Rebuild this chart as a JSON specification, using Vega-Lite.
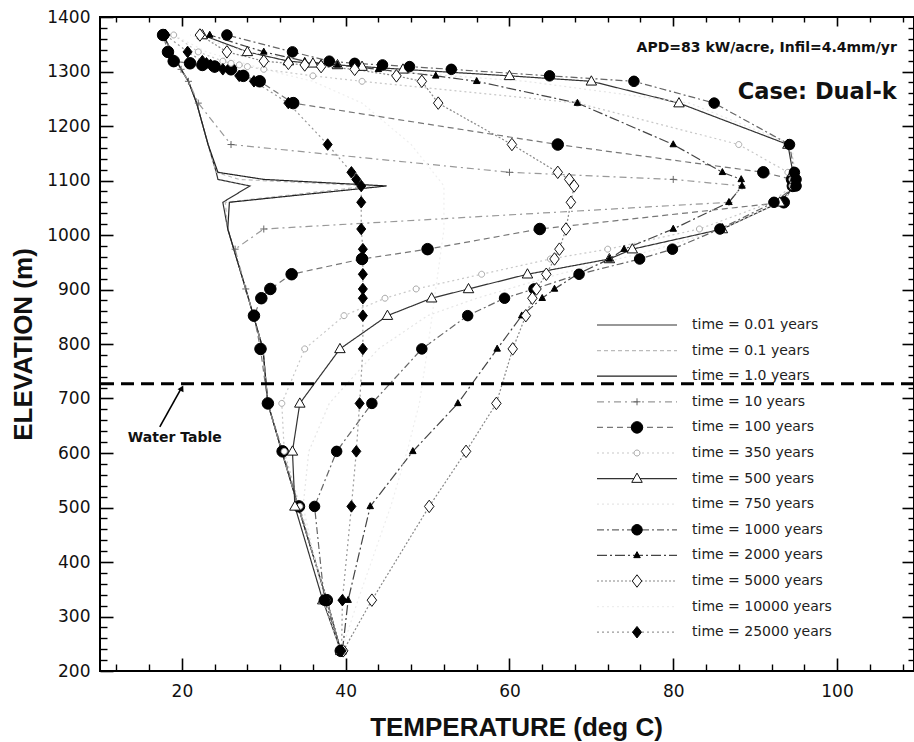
{
"$schema": "https://vega.github.io/schema/vega-lite/v6.json",
"width": 814, "height": 654,
"autosize": {"type": "none"},
"padding": {"left": 100, "top": 17, "right": 0, "bottom": 71},
"background": "white",
"config": {"view": {"stroke": "black", "strokeWidth": 2}, "axis": {"grid": false}},
"resolve": {"axis": {"x": "independent", "y": "independent"}, "legend": {"fill": "independent", "stroke": "independent", "shape": "independent"}},
"datasets": {
"profiles": [
{"s":"0.01","t":17.7,"e":1367},{"s":"0.01","t":19.9,"e":1304},{"s":"0.01","t":20.8,"e":1282},{"s":"0.01","t":21.8,"e":1242},{"s":"0.01","t":23.2,"e":1166},{"s":"0.01","t":24.2,"e":1115},{"s":"0.01","t":24.4,"e":1102},{"s":"0.01","t":28.3,"e":1090},{"s":"0.01","t":25.0,"e":1060},{"s":"0.01","t":25.6,"e":1011},{"s":"0.01","t":27.8,"e":901},{"s":"0.01","t":29.9,"e":791},{"s":"0.01","t":30.5,"e":691},{"s":"0.01","t":32.2,"e":603},{"s":"0.01","t":34.2,"e":502},{"s":"0.01","t":37.7,"e":330},{"s":"0.01","t":39.4,"e":237},
{"s":"0.1","t":17.7,"e":1367},{"s":"0.1","t":19.9,"e":1304},{"s":"0.1","t":20.8,"e":1282},{"s":"0.1","t":21.8,"e":1242},{"s":"0.1","t":23.2,"e":1166},{"s":"0.1","t":24.2,"e":1115},{"s":"0.1","t":27.0,"e":1102},{"s":"0.1","t":43.0,"e":1090},{"s":"0.1","t":25.3,"e":1060},{"s":"0.1","t":25.6,"e":1011},{"s":"0.1","t":27.8,"e":901},{"s":"0.1","t":29.9,"e":791},{"s":"0.1","t":30.5,"e":691},{"s":"0.1","t":32.2,"e":603},{"s":"0.1","t":34.2,"e":502},{"s":"0.1","t":37.7,"e":330},{"s":"0.1","t":39.4,"e":237},
{"s":"1.0","t":17.7,"e":1367},{"s":"1.0","t":19.9,"e":1304},{"s":"1.0","t":20.8,"e":1282},{"s":"1.0","t":21.8,"e":1242},{"s":"1.0","t":23.2,"e":1166},{"s":"1.0","t":24.4,"e":1115},{"s":"1.0","t":30.0,"e":1102},{"s":"1.0","t":45.0,"e":1090},{"s":"1.0","t":25.8,"e":1060},{"s":"1.0","t":25.6,"e":1011},{"s":"1.0","t":27.8,"e":901},{"s":"1.0","t":29.9,"e":791},{"s":"1.0","t":30.5,"e":691},{"s":"1.0","t":32.2,"e":603},{"s":"1.0","t":34.2,"e":502},{"s":"1.0","t":37.7,"e":330},{"s":"1.0","t":39.4,"e":237},
{"s":"10","t":17.7,"e":1367},{"s":"10","t":19.9,"e":1304},{"s":"10","t":20.8,"e":1282},{"s":"10","t":22.0,"e":1242},{"s":"10","t":26.0,"e":1166},{"s":"10","t":60.0,"e":1115},{"s":"10","t":80.0,"e":1102},{"s":"10","t":88.4,"e":1090},{"s":"10","t":86.8,"e":1060},{"s":"10","t":30.0,"e":1011},{"s":"10","t":26.5,"e":974},{"s":"10","t":27.8,"e":901},{"s":"10","t":29.9,"e":791},{"s":"10","t":30.5,"e":691},{"s":"10","t":32.2,"e":603},{"s":"10","t":34.2,"e":502},{"s":"10","t":37.7,"e":330},{"s":"10","t":39.4,"e":237},
{"s":"100","t":17.7,"e":1367},{"s":"100","t":18.3,"e":1336},{"s":"100","t":19.0,"e":1319},{"s":"100","t":21.0,"e":1315},{"s":"100","t":22.5,"e":1312},{"s":"100","t":24.0,"e":1309},{"s":"100","t":26.0,"e":1304},{"s":"100","t":27.5,"e":1292},{"s":"100","t":29.5,"e":1282},{"s":"100","t":33.6,"e":1242},{"s":"100","t":65.9,"e":1166},{"s":"100","t":91.0,"e":1115},{"s":"100","t":94.5,"e":1102},{"s":"100","t":94.6,"e":1090},{"s":"100","t":93.5,"e":1060},{"s":"100","t":63.7,"e":1011},{"s":"100","t":50.0,"e":974},{"s":"100","t":42.0,"e":956},{"s":"100","t":33.4,"e":928},{"s":"100","t":30.8,"e":901},{"s":"100","t":29.7,"e":884},{"s":"100","t":28.8,"e":852},{"s":"100","t":29.6,"e":791},{"s":"100","t":30.5,"e":691},{"s":"100","t":32.3,"e":603},{"s":"100","t":34.3,"e":502},{"s":"100","t":37.7,"e":330},{"s":"100","t":39.4,"e":237},
{"s":"350","t":19,"e":1367},{"s":"350","t":22,"e":1336},{"s":"350","t":25,"e":1319},{"s":"350","t":26,"e":1315},{"s":"350","t":27,"e":1312},{"s":"350","t":28,"e":1309},{"s":"350","t":30,"e":1304},{"s":"350","t":36,"e":1292},{"s":"350","t":42,"e":1282},{"s":"350","t":68.3,"e":1242},{"s":"350","t":88,"e":1166},{"s":"350","t":94,"e":1115},{"s":"350","t":94.5,"e":1102},{"s":"350","t":94.5,"e":1090},{"s":"350","t":92,"e":1060},{"s":"350","t":83.2,"e":1011},{"s":"350","t":72,"e":974},{"s":"350","t":65,"e":956},{"s":"350","t":56.6,"e":928},{"s":"350","t":48.6,"e":901},{"s":"350","t":44.8,"e":884},{"s":"350","t":39.8,"e":852},{"s":"350","t":35,"e":791},{"s":"350","t":32.2,"e":691},{"s":"350","t":32.5,"e":603},{"s":"350","t":34.4,"e":502},{"s":"350","t":37.7,"e":330},{"s":"350","t":39.4,"e":237},
{"s":"500","t":22.5,"e":1367},{"s":"500","t":28,"e":1336},{"s":"500","t":33,"e":1319},{"s":"500","t":36,"e":1315},{"s":"500","t":39,"e":1312},{"s":"500","t":42,"e":1309},{"s":"500","t":47,"e":1304},{"s":"500","t":60,"e":1292},{"s":"500","t":70,"e":1282},{"s":"500","t":80.7,"e":1242},{"s":"500","t":94,"e":1166},{"s":"500","t":94.6,"e":1115},{"s":"500","t":94.8,"e":1102},{"s":"500","t":94.8,"e":1090},{"s":"500","t":93,"e":1060},{"s":"500","t":86,"e":1011},{"s":"500","t":75,"e":974},{"s":"500","t":72.2,"e":956},{"s":"500","t":62.2,"e":928},{"s":"500","t":55,"e":901},{"s":"500","t":50.5,"e":884},{"s":"500","t":45.1,"e":852},{"s":"500","t":39.3,"e":791},{"s":"500","t":34.4,"e":691},{"s":"500","t":33.5,"e":603},{"s":"500","t":33.8,"e":502},{"s":"500","t":37.2,"e":330},{"s":"500","t":39.4,"e":237},
{"s":"750","t":21,"e":1367},{"s":"750","t":28,"e":1336},{"s":"750","t":42,"e":1304},{"s":"750","t":62,"e":1282},{"s":"750","t":82,"e":1242},{"s":"750","t":94.5,"e":1166},{"s":"750","t":95,"e":1090},{"s":"750","t":93,"e":1060},{"s":"750","t":86,"e":1011},{"s":"750","t":78,"e":974},{"s":"750","t":66,"e":928},{"s":"750","t":56,"e":884},{"s":"750","t":50,"e":852},{"s":"750","t":44,"e":791},{"s":"750","t":38,"e":691},{"s":"750","t":35.5,"e":603},{"s":"750","t":34.8,"e":502},{"s":"750","t":37.3,"e":330},{"s":"750","t":39.4,"e":237},
{"s":"1000","t":25.5,"e":1367},{"s":"1000","t":33.5,"e":1336},{"s":"1000","t":38,"e":1319},{"s":"1000","t":41.1,"e":1315},{"s":"1000","t":44.5,"e":1312},{"s":"1000","t":47.8,"e":1309},{"s":"1000","t":52.9,"e":1304},{"s":"1000","t":64.9,"e":1292},{"s":"1000","t":75.2,"e":1282},{"s":"1000","t":85,"e":1242},{"s":"1000","t":94.2,"e":1166},{"s":"1000","t":94.8,"e":1115},{"s":"1000","t":95,"e":1102},{"s":"1000","t":95,"e":1090},{"s":"1000","t":92.3,"e":1060},{"s":"1000","t":85.7,"e":1011},{"s":"1000","t":79.9,"e":974},{"s":"1000","t":75.9,"e":956},{"s":"1000","t":68.5,"e":928},{"s":"1000","t":63,"e":901},{"s":"1000","t":59.4,"e":884},{"s":"1000","t":54.9,"e":852},{"s":"1000","t":49.3,"e":791},{"s":"1000","t":43.2,"e":691},{"s":"1000","t":38.9,"e":603},{"s":"1000","t":36.2,"e":502},{"s":"1000","t":37.4,"e":330},{"s":"1000","t":39.5,"e":237},
{"s":"2000","t":23.4,"e":1367},{"s":"2000","t":30,"e":1336},{"s":"2000","t":35,"e":1319},{"s":"2000","t":37,"e":1315},{"s":"2000","t":39,"e":1312},{"s":"2000","t":41,"e":1309},{"s":"2000","t":44,"e":1304},{"s":"2000","t":51,"e":1292},{"s":"2000","t":56,"e":1282},{"s":"2000","t":68.3,"e":1242},{"s":"2000","t":80,"e":1166},{"s":"2000","t":86,"e":1115},{"s":"2000","t":88.3,"e":1102},{"s":"2000","t":88.4,"e":1090},{"s":"2000","t":86.8,"e":1060},{"s":"2000","t":80,"e":1011},{"s":"2000","t":74,"e":974},{"s":"2000","t":72.2,"e":956},{"s":"2000","t":68.3,"e":928},{"s":"2000","t":65.5,"e":901},{"s":"2000","t":64,"e":884},{"s":"2000","t":61.5,"e":852},{"s":"2000","t":58.5,"e":791},{"s":"2000","t":53.7,"e":691},{"s":"2000","t":48.2,"e":603},{"s":"2000","t":43,"e":502},{"s":"2000","t":40.3,"e":330},{"s":"2000","t":39.6,"e":237},
{"s":"5000","t":22.2,"e":1367},{"s":"5000","t":25.5,"e":1336},{"s":"5000","t":30,"e":1319},{"s":"5000","t":33,"e":1315},{"s":"5000","t":35,"e":1312},{"s":"5000","t":37,"e":1309},{"s":"5000","t":41.1,"e":1304},{"s":"5000","t":46.2,"e":1292},{"s":"5000","t":49.3,"e":1282},{"s":"5000","t":51.3,"e":1242},{"s":"5000","t":60.3,"e":1166},{"s":"5000","t":65.9,"e":1115},{"s":"5000","t":67.3,"e":1102},{"s":"5000","t":67.9,"e":1090},{"s":"5000","t":67.5,"e":1060},{"s":"5000","t":66.9,"e":1011},{"s":"5000","t":66.1,"e":974},{"s":"5000","t":65.5,"e":956},{"s":"5000","t":64.5,"e":928},{"s":"5000","t":63.3,"e":901},{"s":"5000","t":62.8,"e":884},{"s":"5000","t":62,"e":852},{"s":"5000","t":60.4,"e":791},{"s":"5000","t":58.4,"e":691},{"s":"5000","t":54.7,"e":603},{"s":"5000","t":50.2,"e":502},{"s":"5000","t":43.2,"e":330},{"s":"5000","t":39.7,"e":237},
{"s":"10000","t":19,"e":1367},{"s":"10000","t":23,"e":1336},{"s":"10000","t":30,"e":1304},{"s":"10000","t":36,"e":1282},{"s":"10000","t":42,"e":1242},{"s":"10000","t":48,"e":1166},{"s":"10000","t":52,"e":1090},{"s":"10000","t":52,"e":1011},{"s":"10000","t":51,"e":901},{"s":"10000","t":50,"e":791},{"s":"10000","t":49,"e":691},{"s":"10000","t":47.5,"e":603},{"s":"10000","t":45.5,"e":502},{"s":"10000","t":41.5,"e":330},{"s":"10000","t":39.5,"e":237},
{"s":"25000","t":18,"e":1367},{"s":"25000","t":20.7,"e":1336},{"s":"25000","t":22.5,"e":1319},{"s":"25000","t":23,"e":1315},{"s":"25000","t":23.5,"e":1312},{"s":"25000","t":24,"e":1309},{"s":"25000","t":25,"e":1304},{"s":"25000","t":27,"e":1292},{"s":"25000","t":28.8,"e":1282},{"s":"25000","t":33,"e":1242},{"s":"25000","t":37.8,"e":1166},{"s":"25000","t":40.7,"e":1115},{"s":"25000","t":41.3,"e":1102},{"s":"25000","t":41.9,"e":1090},{"s":"25000","t":41.9,"e":1060},{"s":"25000","t":41.9,"e":1011},{"s":"25000","t":42.1,"e":974},{"s":"25000","t":42.1,"e":956},{"s":"25000","t":42.1,"e":928},{"s":"25000","t":42.1,"e":901},{"s":"25000","t":42.1,"e":884},{"s":"25000","t":42.1,"e":852},{"s":"25000","t":42.1,"e":791},{"s":"25000","t":41.7,"e":691},{"s":"25000","t":41.3,"e":603},{"s":"25000","t":40.7,"e":502},{"s":"25000","t":39.6,"e":330},{"s":"25000","t":39.5,"e":237}
]
},
"layer": [
{
"data": {"name": "profiles"},
"mark": {"type": "line", "strokeWidth": 1.2},
"encoding": {
"x": {"field": "t", "type": "quantitative", "scale": {"domain": [10, 109.4], "nice": false, "zero": false},
 "axis": {"orient": "bottom", "values": [20, 40, 60, 80, 100], "format": "d", "ticks": false, "domain": false, "labelFont": "DejaVu Sans", "labelFontSize": 17, "labelColor": "#111", "labelPadding": 12, "labelFlush": false,
  "title": "TEMPERATURE (deg C)", "titleFont": "Liberation Sans", "titleFontSize": 26, "titleFontWeight": "bold", "titleColor": "#111", "titleX": 416, "titleY": 64, "titleBaseline": "alphabetic", "titleAlign": "center"}},
"y": {"field": "e", "type": "quantitative", "scale": {"domain": [200, 1400], "nice": false, "zero": false},
 "axis": {"orient": "left", "values": [200, 300, 400, 500, 600, 700, 800, 900, 1000, 1100, 1200, 1300, 1400], "format": "d", "ticks": false, "domain": false, "labelFont": "DejaVu Sans", "labelFontSize": 17, "labelColor": "#111", "labelPadding": 10, "labelFlush": false, "labelOverlap": false,
  "title": "ELEVATION (m)", "titleFont": "Liberation Sans", "titleFontSize": 26, "titleFontWeight": "bold", "titleColor": "#111", "titleX": -69, "titleY": 327, "titleAngle": 270, "titleBaseline": "alphabetic", "titleAlign": "center"}},
"color": {"field": "s", "type": "nominal",
 "scale": {"domain": ["0.01","0.1","1.0","10","100","350","500","750","1000","2000","5000","10000","25000"],
  "range": ["#333333","#bbbbbb","#222222","#999999","#777777","#c8c8c8","#333333","#e6e6e6","#666666","#444444","#888888","#eeeeee","#999999"]},
 "legend": {"orient": "none", "legendX": 496, "legendY": 296, "direction": "vertical", "title": null, "symbolType": "stroke", "symbolSize": 6400, "symbolStrokeWidth": 1.2, "clipHeight": 24, "rowPadding": 1.6, "labelFont": "DejaVu Sans", "labelFontSize": 14, "labelColor": "#222", "labelOffset": 14, "labelExpr": "'time = ' + datum.label + ' years'", "padding": 0}},
"strokeDash": {"field": "s", "type": "nominal",
 "scale": {"domain": ["0.01","0.1","1.0","10","100","350","500","750","1000","2000","5000","10000","25000"],
  "range": [[1,0],[4,3],[1,0],[7,4,2,4],[6,4],[2,3],[1,0],[2,3],[7,3,2,3],[10,3,2,3],[2,2],[2,3],[2,3]]},
 "legend": {"orient": "none", "legendX": 496, "legendY": 296, "direction": "vertical", "title": null, "symbolType": "stroke", "symbolSize": 6400, "symbolStrokeWidth": 1.2, "clipHeight": 24, "rowPadding": 1.6, "labelFont": "DejaVu Sans", "labelFontSize": 14, "labelColor": "#222", "labelOffset": 14, "labelExpr": "'time = ' + datum.label + ' years'", "padding": 0}},
"order": {"field": "e", "type": "quantitative"}
}
},
{
"data": {"name": "profiles"},
"transform": [{"filter": {"field": "s", "oneOf": ["10","100","350","500","1000","2000","5000","25000"]}}],
"mark": {"type": "point", "size": 100, "strokeWidth": 1, "opacity": 1},
"encoding": {
"x": {"field": "t", "type": "quantitative", "scale": {"domain": [10, 109.4], "nice": false, "zero": false},
 "axis": {"orient": "bottom", "values": [20, 40, 60, 80, 100], "labels": false, "domain": false, "ticks": true, "tickSize": -13, "tickWidth": 1.6, "tickColor": "black", "title": null}},
"y": {"field": "e", "type": "quantitative", "scale": {"domain": [200, 1400], "nice": false, "zero": false},
 "axis": {"orient": "left", "values": [200, 300, 400, 500, 600, 700, 800, 900, 1000, 1100, 1200, 1300, 1400], "labels": false, "domain": false, "ticks": true, "tickSize": -13, "tickWidth": 1.6, "tickColor": "black", "title": null}},
"shape": {"field": "s", "type": "nominal",
 "scale": {"domain": ["0.01","0.1","1.0","10","100","350","500","750","1000","2000","5000","10000","25000"],
  "range": ["M0,0","M0,0","M0,0","M-0.7,0L0.7,0M0,-0.7L0,0.7","M1.15,0A1.15,1.15,0,1,1,-1.15,0A1.15,1.15,0,1,1,1.15,0Z","M0.6,0A0.6,0.6,0,1,1,-0.6,0A0.6,0.6,0,1,1,0.6,0Z","M0,-1.1L1.05,0.75L-1.05,0.75Z","M0,0","M1.05,0A1.05,1.05,0,1,1,-1.05,0A1.05,1.05,0,1,1,1.05,0Z","M0,-0.75L0.65,0.45L-0.65,0.45Z","M0,-1.25L0.95,0L0,1.25L-0.95,0Z","M0,0","M0,-1.15L0.9,0L0,1.15L-0.9,0Z"]},
 "legend": {"orient": "none", "legendX": 496, "legendY": 296, "direction": "vertical", "title": null, "clipHeight": 24, "rowPadding": 1.6, "labelFont": "DejaVu Sans", "labelFontSize": 14, "labelOpacity": 0, "labelExpr": "''", "labelOffset": 14, "symbolOffset": 34, "symbolSize": 100, "symbolStrokeWidth": 1, "padding": 0}},
"fill": {"field": "s", "type": "nominal",
 "scale": {"domain": ["0.01","0.1","1.0","10","100","350","500","750","1000","2000","5000","10000","25000"],
  "range": ["transparent","transparent","transparent","transparent","black","white","white","transparent","black","black","white","transparent","black"]},
 "legend": {"orient": "none", "legendX": 496, "legendY": 296, "direction": "vertical", "title": null, "clipHeight": 24, "rowPadding": 1.6, "labelFont": "DejaVu Sans", "labelFontSize": 14, "labelOpacity": 0, "labelExpr": "''", "labelOffset": 14, "symbolOffset": 34, "symbolSize": 100, "symbolStrokeWidth": 1, "padding": 0}},
"stroke": {"field": "s", "type": "nominal",
 "scale": {"domain": ["0.01","0.1","1.0","10","100","350","500","750","1000","2000","5000","10000","25000"],
  "range": ["transparent","transparent","transparent","#666666","black","#aaaaaa","#111111","transparent","black","black","#111111","transparent","black"]},
 "legend": {"orient": "none", "legendX": 496, "legendY": 296, "direction": "vertical", "title": null, "clipHeight": 24, "rowPadding": 1.6, "labelFont": "DejaVu Sans", "labelFontSize": 14, "labelOpacity": 0, "labelExpr": "''", "labelOffset": 14, "symbolOffset": 34, "symbolSize": 100, "symbolStrokeWidth": 1, "padding": 0}}
}
},
{
"data": {"values": [{"e": 727}]},
"mark": {"type": "rule", "color": "black", "strokeWidth": 3, "strokeDash": [13, 7]},
"encoding": {"y": {"field": "e", "type": "quantitative", "scale": {"domain": [200, 1400], "nice": false, "zero": false}, "axis": null}}
},
{
"data": {"values": [{"t": 17.3, "e": 648, "t2": 19.9, "e2": 718}]},
"mark": {"type": "rule", "color": "black", "strokeWidth": 1.6},
"encoding": {
"x": {"field": "t", "type": "quantitative", "scale": {"domain": [10, 109.4], "nice": false, "zero": false}, "axis": null},
"y": {"field": "e", "type": "quantitative", "scale": {"domain": [200, 1400], "nice": false, "zero": false}, "axis": null},
"x2": {"field": "t2"}, "y2": {"field": "e2"}
}
},
{
"data": {"values": [{"t": 20.0, "e": 719}]},
"mark": {"type": "point", "shape": "triangle-up", "angle": 28, "size": 45, "filled": true, "color": "black", "opacity": 1},
"encoding": {
"x": {"field": "t", "type": "quantitative", "scale": {"domain": [10, 109.4], "nice": false, "zero": false}, "axis": null},
"y": {"field": "e", "type": "quantitative", "scale": {"domain": [200, 1400], "nice": false, "zero": false}, "axis": null}
}
},
{
"data": {"values": [{"label": "APD=83 kW/acre, Infil=4.4mm/yr", "t": 107.3, "e": 1343}]},
"mark": {"type": "text", "align": "right", "baseline": "middle", "font": "DejaVu Sans", "fontSize": 14, "fontWeight": "bold", "color": "#111"},
"encoding": {
"x": {"field": "t", "type": "quantitative", "scale": {"domain": [10, 109.4], "nice": false, "zero": false},
 "axis": {"orient": "bottom", "values": [12,16,24,28,32,36,44,48,52,56,64,68,72,76,84,88,92,96,104,108], "labels": false, "domain": false, "ticks": true, "tickSize": -7, "tickWidth": 1.4, "tickColor": "black", "title": null}},
"y": {"field": "e", "type": "quantitative", "scale": {"domain": [200, 1400], "nice": false, "zero": false},
 "axis": {"orient": "left", "values": [220,240,260,280,320,340,360,380,420,440,460,480,520,540,560,580,620,640,660,680,720,740,760,780,820,840,860,880,920,940,960,980,1020,1040,1060,1080,1120,1140,1160,1180,1220,1240,1260,1280,1320,1340,1360,1380], "labels": false, "domain": false, "ticks": true, "tickSize": -7, "tickWidth": 1.4, "tickColor": "black", "title": null}},
"text": {"field": "label"}
}
},
{
"data": {"values": [{"label": "Case: Dual-k", "t": 107.3, "e": 1262}]},
"mark": {"type": "text", "align": "right", "baseline": "middle", "font": "DejaVu Sans", "fontSize": 22.5, "fontWeight": "bold", "color": "#111"},
"encoding": {
"x": {"field": "t", "type": "quantitative", "scale": {"domain": [10, 109.4], "nice": false, "zero": false},
 "axis": {"orient": "top", "values": [20, 40, 60, 80, 100], "labels": false, "domain": false, "ticks": true, "tickSize": -9, "tickWidth": 1.6, "tickColor": "black", "title": null}},
"y": {"field": "e", "type": "quantitative", "scale": {"domain": [200, 1400], "nice": false, "zero": false},
 "axis": {"orient": "right", "values": [300, 400, 500, 600, 700, 800, 900, 1000, 1100, 1200, 1300], "labels": false, "domain": false, "ticks": true, "tickSize": -12, "tickWidth": 1.6, "tickColor": "black", "title": null}},
"text": {"field": "label"}
}
},
{
"data": {"values": [{"label": "Water Table", "t": 13.4, "e": 628}]},
"mark": {"type": "text", "align": "left", "baseline": "middle", "font": "DejaVu Sans", "fontSize": 14, "fontWeight": "bold", "color": "#111"},
"encoding": {
"x": {"field": "t", "type": "quantitative", "scale": {"domain": [10, 109.4], "nice": false, "zero": false},
 "axis": {"orient": "top", "values": [12,16,24,28,32,36,44,48,52,56,64,68,72,76,84,88,92,96,104,108], "labels": false, "domain": false, "ticks": true, "tickSize": -5, "tickWidth": 1.4, "tickColor": "black", "title": null}},
"y": {"field": "e", "type": "quantitative", "scale": {"domain": [200, 1400], "nice": false, "zero": false},
 "axis": {"orient": "right", "values": [220,240,260,280,320,340,360,380,420,440,460,480,520,540,560,580,620,640,660,680,720,740,760,780,820,840,860,880,920,940,960,980,1020,1040,1060,1080,1120,1140,1160,1180,1220,1240,1260,1280,1320,1340,1360,1380], "labels": false, "domain": false, "ticks": true, "tickSize": -6, "tickWidth": 1.4, "tickColor": "black", "title": null}},
"text": {"field": "label"}
}
}
]
}
